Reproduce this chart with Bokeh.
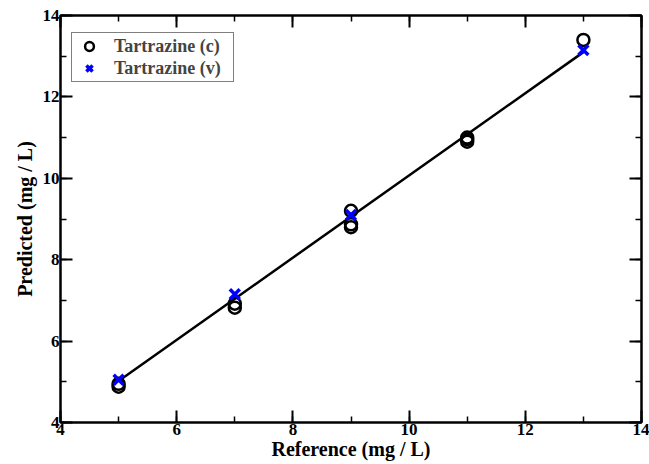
from bokeh.plotting import figure
from bokeh.models import (Range1d, LinearAxis, SingleIntervalTicker, Legend, LegendItem,
                          CustomJSTickFormatter)
from bokeh.embed import file_html
from bokeh.resources import INLINE

# Data
ref_c = [5, 5, 7, 7, 9, 9, 9, 11, 11, 11, 13]
pred_c = [4.88, 4.95, 6.82, 6.92, 8.80, 8.87, 9.20, 10.90, 10.96, 11.00, 13.40]
ref_v = [5, 7, 9, 13]
pred_v = [5.05, 7.15, 9.10, 13.15]
fit_x = [5, 13]
fit_y = [5.02, 13.10]

FONT = "Liberation Serif"

p = figure(width=649, height=464, output_backend="svg", toolbar_location=None,
           x_range=Range1d(4, 14), y_range=Range1d(4, 14),
           min_border_left=60, min_border_top=15, min_border_right=8, min_border_bottom=42)
p.grid.visible = False
p.outline_line_color = "black"
p.outline_line_width = 2
p.background_fill_color = "white"
p.border_fill_color = "white"

def style_axis(ax, labels=True):
    ax.ticker = SingleIntervalTicker(interval=2, num_minor_ticks=2)
    ax.axis_line_color = "black"
    ax.axis_line_width = 2
    ax.major_tick_in = 12
    ax.major_tick_out = 0
    ax.minor_tick_in = 6
    ax.minor_tick_out = 0
    ax.major_tick_line_width = 2
    ax.minor_tick_line_width = 1.5
    ax.major_tick_line_color = "black"
    ax.minor_tick_line_color = "black"
    ax.major_label_text_font = FONT
    ax.major_label_text_font_style = "bold"
    ax.major_label_text_font_size = "17px"
    ax.major_label_text_color = "black"
    ax.major_label_standoff = 1
    ax.axis_label_text_font = FONT
    ax.axis_label_text_font_style = "bold"
    ax.axis_label_text_font_size = "20px"
    ax.axis_label_text_color = "black"
    ax.axis_label_standoff = 0
    if not labels:
        ax.formatter = CustomJSTickFormatter(code="return ''")
        ax.major_label_standoff = 0

style_axis(p.xaxis[0])
style_axis(p.yaxis[0])
p.xaxis[0].axis_label = "Reference (mg / L)"
p.yaxis[0].axis_label = "Predicted (mg / L)"
p.yaxis[0].axis_label_standoff = 4

top = LinearAxis()
style_axis(top, labels=False)
p.add_layout(top, "above")
right = LinearAxis()
style_axis(right, labels=False)
p.add_layout(right, "right")

p.line(fit_x, fit_y, line_color="black", line_width=2.5)
rc = p.scatter(ref_c, pred_c, marker="circle", size=12, fill_color=None,
               line_color="black", line_width=2.5)
rv = p.scatter(ref_v, pred_v, marker="x", size=14, line_color="#0000ff", line_width=3.5)

legend = Legend(items=[LegendItem(label="Tartrazine (c)", renderers=[rc]),
                       LegendItem(label="Tartrazine (v)", renderers=[rv])])
legend.margin = 0
legend.location = (11, 340)
legend.label_text_font = FONT
legend.label_text_font_style = "bold"
legend.label_text_font_size = "18px"
legend.border_line_color = "black"
legend.border_line_width = 1
legend.padding = 2
legend.spacing = 0
legend.label_height = 22
legend.label_width = 117
legend.glyph_height = 22
legend.glyph_width = 30
legend.label_standoff = 10
p.add_layout(legend, "center")

open("out.html", "w").write(file_html(p, INLINE))
